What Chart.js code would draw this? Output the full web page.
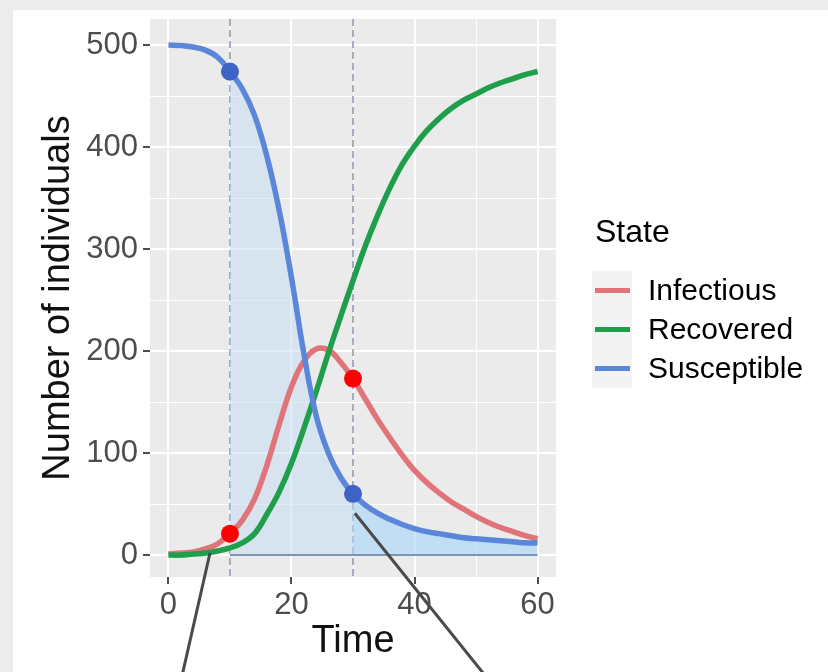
<!DOCTYPE html>
<html>
<head>
<meta charset="utf-8">
<script src="https://cdn.jsdelivr.net/npm/chart.js@4.4.1/dist/chart.umd.min.js"></script>
<style>
  body { margin: 0; background: #ececec; font-family: "Liberation Sans", Arial, sans-serif; }
  #wrap { position: absolute; left: 13px; top: 10px; width: 815px; height: 662px; background: #fff; }
  #legend { position: absolute; left: 579px; top: 205px; }
  #legend .title { font-size: 32px; line-height: 32px; color: #000; margin-left: 3px; }
  #legend .item { position: relative; height: 39px; margin-top: 0; }
  #legend .key { position: absolute; left: 0; top: 0; width: 40px; height: 39px; background: #f3f3f3; }
  #legend .key i { position: absolute; left: 3px; top: 17px; width: 35px; height: 5px; }
  #legend .item span { position: absolute; left: 56px; top: 4px; font-size: 30px; line-height: 30px; color: #000; }
</style>
</head>
<body>
<div id="wrap">
  <canvas id="chart" width="815" height="662"></canvas>
  <div id="legend"></div>
</div>
<script>
// SIR curves
const times = [0, 2, 4, 6, 8, 10, 12, 14, 16, 18, 20, 22, 24, 26, 28, 30,
               32, 34, 36, 38, 40, 42, 44, 46, 48, 50, 52, 54, 56, 58, 60];
const susceptible = [500, 499.5, 498, 495, 488, 474, 457, 431, 391, 338, 272, 198, 137, 100, 76, 60,
                     49, 41, 35, 30, 26, 23, 21, 19, 17, 16, 15, 14, 13, 12, 12];
const infectious = [1, 2, 3, 6, 11, 21, 34, 55, 88, 128, 165, 190, 202, 201, 189, 173,
                    153, 133, 115, 98, 83, 71, 61, 52, 45, 38, 32, 27, 23, 19, 16];
const recovered = [0, 0, 1, 2, 4, 7, 12, 21, 40, 62, 90, 124, 160, 198, 234, 269,
                   303, 333, 360, 383, 401, 416, 428, 438, 446, 452, 458, 463, 467, 471, 474];

const markTimes = [10, 30];
const xTicks = [0, 20, 40, 60];
const xMinor = [10, 30, 50];
const yTicks = [0, 100, 200, 300, 400, 500];
const yMinor = [50, 150, 250, 350, 450];

const legendLabels = ['Infectious', 'Recovered', 'Susceptible'];
const colors = { Infectious: '#e07479', Recovered: '#1f9e4b', Susceptible: '#5b87da' };

// pointer lines that run off the bottom of the plot (data coords)
const pointers = [
  [{ x: 6.75, y: 2 }, { x: 2.3, y: -116 }],
  [{ x: 30.3, y: 41 }, { x: 51.2, y: -116 }]
];

const pts = vals => times.map((t, i) => ({ x: t, y: vals[i] }));
const between = (vals, a, b) => pts(vals).filter(p => p.x >= a && p.x <= b);
const at = vals => markTimes.map(t => ({ x: t, y: vals[times.indexOf(t)] }));

const panelBg = {
  id: 'panelBg',
  beforeDraw(chart) {
    const { ctx, chartArea: a } = chart;
    ctx.save();
    ctx.fillStyle = '#ebebeb';
    ctx.fillRect(a.left, a.top, a.right - a.left, a.bottom - a.top);
    ctx.restore();
  },
  beforeDatasetsDraw(chart) {
    const { ctx, chartArea: a, scales } = chart;
    ctx.save();
    ctx.strokeStyle = 'rgba(150,160,182,0.85)';
    ctx.lineWidth = 2;
    ctx.setLineDash([7, 4]);
    markTimes.forEach(t => {
      const x = scales.x.getPixelForValue(t);
      ctx.beginPath();
      ctx.moveTo(x, a.top);
      ctx.lineTo(x, a.bottom);
      ctx.stroke();
    });
    ctx.restore();
  },
  afterDraw(chart) {
    const { ctx, scales } = chart;
    ctx.save();
    ctx.strokeStyle = '#4a4a4a';
    ctx.lineWidth = 3;
    pointers.forEach(([p, q]) => {
      ctx.beginPath();
      ctx.moveTo(scales.x.getPixelForValue(p.x), scales.y.getPixelForValue(p.y));
      ctx.lineTo(scales.x.getPixelForValue(q.x), scales.y.getPixelForValue(q.y));
      ctx.stroke();
    });
    ctx.restore();
  }
};

const tickFont = { family: 'Liberation Sans', size: 31 };
const titleFont = { family: 'Liberation Sans', size: 38 };
const curve = { borderWidth: 5.5, pointRadius: 0, tension: 0.4 };

const ctx = document.getElementById('chart').getContext('2d');
const chart = new Chart(ctx, {
  type: 'line',
  data: {
    datasets: [
      { data: at(susceptible), showLine: false, pointRadius: 9, pointBackgroundColor: '#3e62c6', pointBorderWidth: 0, order: 0 },
      { data: at(infectious), showLine: false, pointRadius: 9, pointBackgroundColor: '#ff0000', pointBorderWidth: 0, order: 0 },
      { label: 'Susceptible', data: pts(susceptible), borderColor: colors.Susceptible, ...curve, order: 1 },
      { label: 'Recovered', data: pts(recovered), borderColor: colors.Recovered, ...curve, order: 2 },
      { label: 'Infectious', data: pts(infectious), borderColor: colors.Infectious, ...curve, order: 3 },
      { data: between(susceptible, 10, 60).map(p => ({ x: p.x, y: 0 })), borderColor: '#7b96b5', borderWidth: 2, pointRadius: 0, order: 4 },
      { data: between(susceptible, 10, 30), fill: 'origin', backgroundColor: 'rgba(198,220,242,0.55)', borderWidth: 0, pointRadius: 0, tension: 0.4, order: 10 },
      { data: between(susceptible, 30, 60), fill: 'origin', backgroundColor: 'rgba(165,214,250,0.6)', borderWidth: 0, pointRadius: 0, tension: 0.4, order: 10 }
    ]
  },
  options: {
    responsive: false,
    animation: false,
    layout: { padding: { left: 0, top: 9, right: 272, bottom: 0 } },
    plugins: { legend: { display: false }, tooltip: { enabled: false } },
    scales: {
      x: {
        type: 'linear', min: -3, max: 63,
        afterBuildTicks: s => { s.ticks = xTicks.concat(xMinor).sort((a, b) => a - b).map(v => ({ value: v })); },
        afterFit: s => { s.height = 95; s.paddingLeft = 0; s.paddingRight = 0; },
        ticks: { font: tickFont, color: '#4d4d4d', padding: 3, maxRotation: 0, autoSkip: false,
                 callback: v => xTicks.includes(v) ? v : '' },
        grid: { color: '#ffffff', lineWidth: c => xTicks.includes(c.tick.value) ? 2 : 1,
                tickColor: c => xTicks.includes(c.tick.value) ? '#4d4d4d' : 'rgba(0,0,0,0)',
                tickLength: 7, tickWidth: 2 },
        border: { display: false },
        title: { display: true, text: 'Time', font: titleFont, color: '#111', padding: { top: 0, bottom: 8 } }
      },
      y: {
        type: 'linear', min: -21.5, max: 525.5,
        afterBuildTicks: s => { s.ticks = yTicks.concat(yMinor).sort((a, b) => a - b).map(v => ({ value: v })); },
        afterFit: s => { s.width = 137; s.paddingTop = 0; s.paddingBottom = 0; },
        ticks: { font: tickFont, color: '#4d4d4d', padding: 5, autoSkip: false,
                 callback: v => yTicks.includes(v) ? v : '' },
        grid: { color: '#ffffff', lineWidth: c => yTicks.includes(c.tick.value) ? 2 : 1,
                tickColor: c => yTicks.includes(c.tick.value) ? '#4d4d4d' : 'rgba(0,0,0,0)',
                tickLength: 7, tickWidth: 2 },
        border: { display: false },
        title: { display: true, text: 'Number of individuals', font: titleFont, color: '#111', padding: { top: 23, bottom: 0 } }
      }
    }
  },
  plugins: [panelBg]
});

// legend, ggplot style
const legend = document.getElementById('legend');
legend.innerHTML = '<div class="title">State</div><div style="height:24px"></div>' +
  legendLabels.map(l => '<div class="item"><div class="key"><i style="background:' + colors[l] + '"></i></div><span>' + l + '</span></div>').join('');
</script>
</body>
</html>
